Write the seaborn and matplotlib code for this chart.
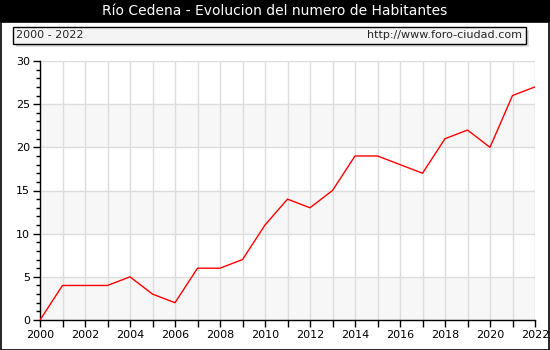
import matplotlib
matplotlib.use("Agg")
import matplotlib.pyplot as plt
import seaborn as sns
import pandas as pd
from matplotlib.patches import Rectangle

years = list(range(2000, 2023))
habitantes = [0, 4, 4, 4, 5, 3, 2, 6, 6, 7, 11, 14, 13, 15, 19, 19, 18, 17, 21, 22, 20, 26, 27]
title = "Río Cedena - Evolucion del numero de Habitantes"
period = "2000 - 2022"
url = "http://www.foro-ciudad.com"

sns.set_theme(style="white")
plt.rcParams['font.family'] = ['DejaVu Sans']

df = pd.DataFrame({"year": years, "hab": habitantes})

W, H = 550, 350
fig = plt.figure(figsize=(W/100, H/100), dpi=100)
fig.patch.set_facecolor("white")

# title bar
fig.patches.append(Rectangle((0, 1 - 22/H), 1, 22/H, transform=fig.transFigure,
                             facecolor="black", edgecolor="none", zorder=0))
fig.text(0.5, 1 - 11/H, title, color="white", ha="center", va="center", fontsize=10)
# outer frame
fig.patches.append(Rectangle((0.5/W, 0.5/H), 1 - 1.5/W, 1 - 22/H, transform=fig.transFigure,
                             facecolor="none", edgecolor="black", linewidth=1.2, zorder=1))
# header box with shadow
fig.patches.append(Rectangle((16/W, 1 - 47/H), 513/W, 17/H, transform=fig.transFigure,
                             facecolor="#dddddd", edgecolor="none", zorder=1))
fig.patches.append(Rectangle((13/W, 1 - 44/H), 513/W, 17/H, transform=fig.transFigure,
                             facecolor="#f4f4f4", edgecolor="black", linewidth=1, zorder=2))
fig.text(16/W, 1 - 35.5/H, period, ha="left", va="center", fontsize=8, zorder=3)
fig.text(522/W, 1 - 35.5/H, url, ha="right", va="center", fontsize=8, zorder=3)

ax = fig.add_axes([40/W, 1 - 320/H, (535-40)/W, (320-61)/H])
ax.set_facecolor("white")
for lo in (0, 10, 20):
    ax.axhspan(lo, lo + 5, color="#f7f7f7", zorder=0, linewidth=0)

sns.lineplot(data=df, x="year", y="hab", ax=ax, color="red", linewidth=1, zorder=3)

ax.set_xlim(2000, 2022)
ax.set_ylim(0, 30)
ax.set_xticks(years, minor=True)
ax.set_xticks(years[::2])
ax.set_xticklabels([str(y) for y in years[::2]], fontsize=8)
ax.set_yticks(range(0, 31, 5))
ax.set_yticks(range(0, 31), minor=True)
ax.set_yticklabels([str(v) for v in range(0, 31, 5)], fontsize=8)
ax.grid(True, which="major", axis="y", color="#dddddd", linewidth=1, zorder=1)
ax.grid(True, which="both", axis="x", color="#dddddd", linewidth=1, zorder=1)
ax.set_axisbelow(True)
ax.set_xlabel("")
ax.set_ylabel("")
for s in ("top", "right"):
    ax.spines[s].set_visible(False)
for s in ("left", "bottom"):
    ax.spines[s].set_color("black")
    ax.spines[s].set_linewidth(1)
ax.tick_params(axis="both", which="both", direction="out", color="black", bottom=True, left=True)
ax.tick_params(axis="both", which="major", length=5, width=1, pad=2, labelcolor="black")
ax.tick_params(axis="x", which="minor", length=5, width=1)
ax.tick_params(axis="y", which="minor", length=3, width=1)

fig.savefig("out.png", dpi=100)
